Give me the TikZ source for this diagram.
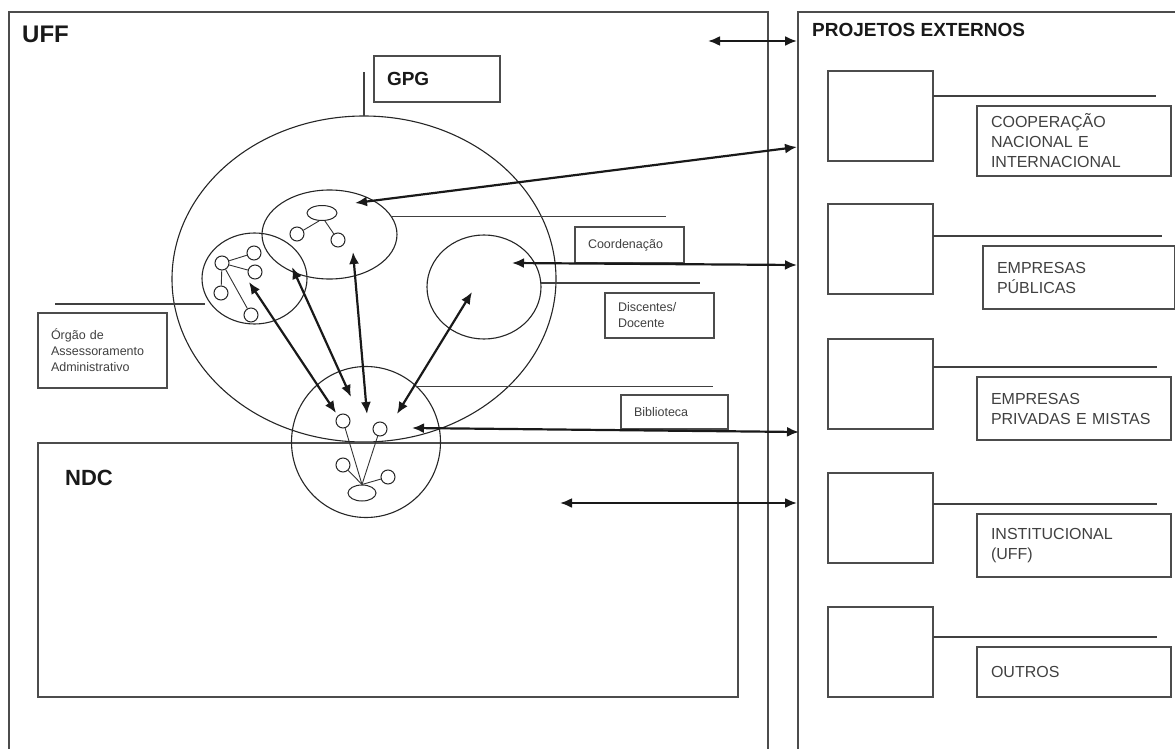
\documentclass[tikz,border=0pt]{standalone}
\usepackage{fontspec}
\setmainfont{Liberation Sans}
\usetikzlibrary{arrows.meta, shapes.geometric}
\tikzset{
    panel/.style={draw=black!70, line width=1.4pt, anchor=north west, inner sep=0pt, outer sep=0pt},
    lbox/.style={draw=black!70, line width=1.3pt, anchor=north west, inner xsep=13pt, inner ysep=0pt, outer sep=0pt, align=left, text=black!75, font=\fontsize{12.5}{16}\selectfont},
    rbox/.style={lbox, inner xsep=14pt, font=\fontsize{16}{20}\selectfont},
    emptybox/.style={draw=black!70, line width=1.3pt, anchor=north west, inner sep=0pt, outer sep=0pt, minimum width=105pt, minimum height=90pt},
    title/.style={anchor=west, inner sep=0pt, text=black!90, font=\bfseries\fontsize{19}{22}\selectfont},
    zone/.style={ellipse, draw=black!85, line width=1.1pt, inner sep=0pt, outer sep=0pt},
    member/.style={circle, draw=black!85, line width=1pt, minimum size=14pt, inner sep=0pt},
    hub/.style={ellipse, draw=black!85, line width=1pt, inner sep=0pt},
    link/.style={draw=black!80, line width=0.9pt},
    leader/.style={draw=black!75, line width=1.4pt},
    flow/.style={{Latex[length=12pt,width=10pt]}-{Latex[length=12pt,width=10pt]}, line width=2.2pt, black!90},
}

\begin{document}
\begin{tikzpicture}[x=1pt, y=-1pt]
    \useasboundingbox (0,0) rectangle (1175,749);
    \clip (0,0) rectangle (1175,749);

    % UFF and external projects
    \node[panel, minimum width=759pt, minimum height=760pt] (uff) at (9,12) {};
    \node[title, font=\bfseries\fontsize{24}{28}\selectfont] (ufftitle) at (22,34) {UFF};
    \node[panel, minimum width=400pt, minimum height=760pt] (pe) at (798,12) {};
    \node[title] (petitle) at (812,30) {PROJETOS EXTERNOS};

    % GPG
    \node[zone, minimum width=384pt, minimum height=326pt] (gpg) at (364,279) {};
    \node[lbox, text width=100pt, minimum height=46pt, text=black!90, font=\bfseries\fontsize{19}{22}\selectfont] (gpgbox) at (374,56) {GPG};
    \draw[leader] (gpg.north) -- ++(0,-44);

    % NDC
    \node[panel, minimum width=700pt, minimum height=254pt] (ndc) at (38,443) {};
    \node[title, font=\bfseries\fontsize{22}{26}\selectfont] (ndctitle) at (65,478) {NDC};

    % Coordenacao
    \node[zone, minimum width=135pt, minimum height=89pt] (coordzone) at (329.5,234.5) {};
    \node[hub, minimum width=30pt, minimum height=15pt] (th) at (322,213) {};
    \node[member] (t1) at (297,234) {};
    \node[member] (t2) at (338,240) {};
    \draw[link] (th.250) -- (t1);
    \draw[link] (th.290) -- (t2);
    \node[lbox, text width=83pt, minimum height=36pt] (coordbox) at (575,227) {Coordenação};
    \draw[leader] (coordzone.16) -- ++(275,0);

    % Orgao de Assessoramento
    \node[zone, minimum width=105pt, minimum height=91pt] (orgzone) at (254.5,278.5) {};
    \node[member] (l1) at (222,263) {};
    \node[member] (l2) at (254,253) {};
    \node[member] (l3) at (255,272) {};
    \node[member] (l4) at (221,293) {};
    \node[member] (l5) at (251,315) {};
    \draw[link] (l1) -- (l2);
    \draw[link] (l1) -- (l3);
    \draw[link] (l1) -- (l4);
    \draw[link] (l1) -- (l5);
    \node[lbox, text width=103pt, minimum height=75pt] (orgbox) at (38,313) {Órgão de\\Assessoramento\\Administrativo};
    \coordinate (orgend) at (55,304);
    \draw[leader] (orgend) -- ++(150,0);

    % Discentes / Docente
    \node[zone, minimum width=114pt, minimum height=104pt] (disczone) at (484,287) {};
    \node[lbox, text width=83pt, minimum height=45pt] (discbox) at (605,293) {Discentes/\\Docente};
    \draw[leader] (disczone.east) ++(0,-4) -- ++(159,0);

    % Biblioteca
    \node[zone, minimum width=149pt, minimum height=151pt] (bibzone) at (366,442) {};
    \node[hub, minimum width=28pt, minimum height=16pt] (bh) at (362,493) {};
    \node[member] (b1) at (343,421) {};
    \node[member] (b2) at (380,429) {};
    \node[member] (b3) at (343,465) {};
    \node[member] (b4) at (388,477) {};
    \draw[link] (bh.north) -- (b1);
    \draw[link] (bh.north) -- (b2);
    \draw[link] (bh.north) -- (b3);
    \draw[link] (bh.north) -- (b4);
    \node[lbox, text width=81pt, minimum height=34pt] (bibbox) at (621,395) {Biblioteca};
    \coordinate (bibend) at (713,385);
    \draw[leader] (bibzone.48) -- (bibzone.48 -| bibend);

    % External projects
    \node[emptybox] (pe1) at (828,71) {};
    \node[emptybox] (pe2) at (828,204) {};
    \node[emptybox] (pe3) at (828,339) {};
    \node[emptybox] (pe4) at (828,473) {};
    \node[emptybox] (pe5) at (828,607) {};
    \draw[leader] ([yshift=-25pt]pe1.north east) -- ++(223,0);
    \draw[leader] ([yshift=-32pt]pe2.north east) -- ++(229,0);
    \draw[leader] ([yshift=-28pt]pe3.north east) -- ++(224,0);
    \draw[leader] ([yshift=-31pt]pe4.north east) -- ++(224,0);
    \draw[leader] ([yshift=-30pt]pe5.north east) -- ++(224,0);
    \node[rbox, text width=166pt, minimum height=70pt] (coop) at (977,106) {COOPERAÇÃO\\NACIONAL E\\INTERNACIONAL};
    \node[rbox, text width=164pt, minimum height=63pt] (pub) at (983,246) {EMPRESAS\\PÚBLICAS};
    \node[rbox, text width=166pt, minimum height=63pt] (priv) at (977,377) {EMPRESAS\\PRIVADAS E MISTAS};
    \node[rbox, text width=166pt, minimum height=63pt] (inst) at (977,514) {INSTITUCIONAL\\(UFF)};
    \node[rbox, text width=166pt, minimum height=50pt] (outros) at (977,647) {OUTROS};

    % Flows to external projects
    \coordinate (f0a) at (708,41);   \coordinate (f0b) at (797,41);
    \coordinate (f1a) at (355,203);  \coordinate (f1b) at (797,147);
    \coordinate (f2a) at (512,263);  \coordinate (f2b) at (797,265);
    \coordinate (f3a) at (412,428);  \coordinate (f3b) at (799,432);
    \coordinate (f4a) at (560,503);  \coordinate (f4b) at (797,503);
    \draw[flow] (f0a) -- (f0b);
    \draw[flow] (f1a) -- (f1b);
    \draw[flow] (f2a) -- (f2b);
    \draw[flow] (f3a) -- (f3b);
    \draw[flow] (f4a) -- (f4b);

    % Flows to Biblioteca
    \coordinate (ga) at (249,282);  \coordinate (gb) at (336,413);
    \coordinate (ha) at (292,267);  \coordinate (hb) at (351,397);
    \coordinate (ia) at (353,252);  \coordinate (ib) at (367,414);
    \coordinate (ja) at (472,292);  \coordinate (jb) at (397,414);
    \draw[flow] (ga) -- (gb);
    \draw[flow] (ha) -- (hb);
    \draw[flow] (ia) -- (ib);
    \draw[flow] (ja) -- (jb);
\end{tikzpicture}
\end{document}
